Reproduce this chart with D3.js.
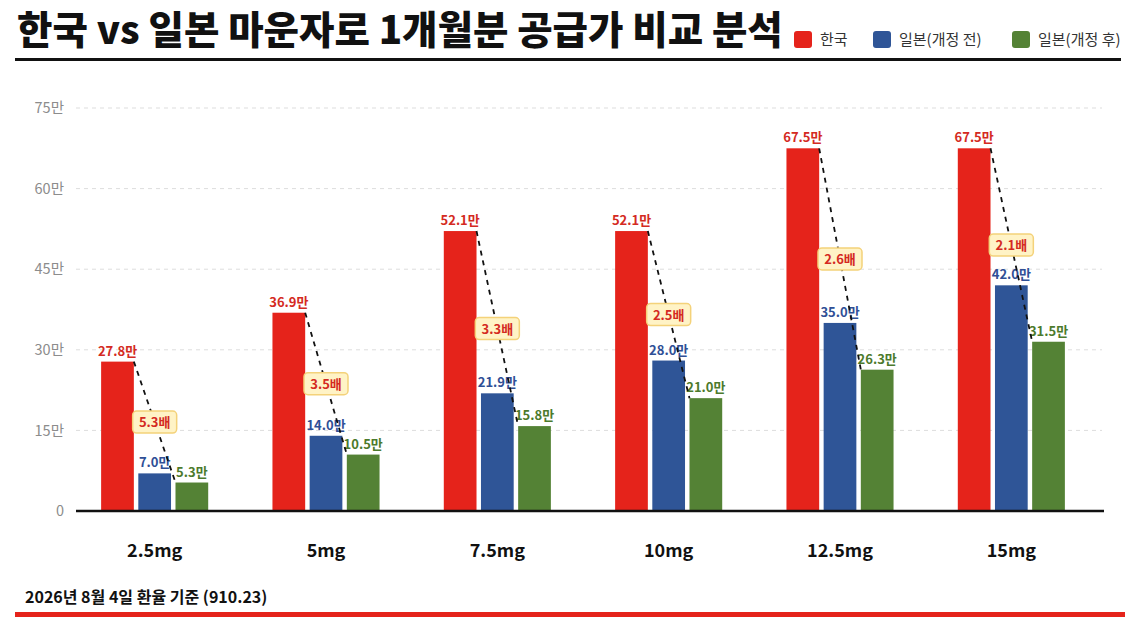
<!DOCTYPE html>
<html>
<head>
<meta charset="utf-8">
<title>한국 vs 일본 마운자로 1개월분 공급가 비교 분석</title>
<script src="https://d3js.org/d3.v7.min.js"></script>
<style>
  body { margin: 0; background: #fff; }
  text { font-family: "Noto Sans CJK KR", "Noto Sans", sans-serif; }
</style>
</head>
<body>
<div id="chart"></div>
<script>
// 데이터 (단위: 만원)
const doses = ["2.5mg", "5mg", "7.5mg", "10mg", "12.5mg", "15mg"];
const korea = [27.8, 36.9, 52.1, 52.1, 67.5, 67.5];
const japanBefore = [7.0, 14.0, 21.9, 28.0, 35.0, 42.0];
const japanAfter = [5.3, 10.5, 15.8, 21.0, 26.3, 31.5];
const ratioLabels = ["5.3배", "3.5배", "3.3배", "2.5배", "2.6배", "2.1배"];
const yTicks = [0, 15, 30, 45, 60, 75];
const seriesNames = ["한국", "일본(개정 전)", "일본(개정 후)"];

const colors = ["#e5231b", "#2f5597", "#548235"];
const labelColors = ["#d42a22", "#2f4f96", "#4c7a2c"];

const W = 1134, H = 620;
const svg = d3.select("#chart").append("svg")
    .attr("width", W).attr("height", H);

// 제목
svg.append("text")
    .attr("x", 17).attr("y", 44)
    .attr("font-size", 38.5).attr("font-weight", 900)
    .attr("fill", "#111")
    .text("한국 vs 일본 마운자로 1개월분 공급가 비교 분석");

svg.append("rect").attr("x", 15).attr("y", 58).attr("width", 1106).attr("height", 3).attr("fill", "#111");

// 범례
const legendX = [794, 873, 1012];
const legend = svg.append("g").selectAll("g").data(seriesNames).join("g")
    .attr("transform", (d, i) => `translate(${legendX[i]},31)`);
legend.append("rect").attr("width", 18).attr("height", 17).attr("rx", 3)
    .attr("fill", (d, i) => colors[i]);
legend.append("text").attr("x", 26).attr("y", 14)
    .attr("font-size", 15).attr("fill", "#333").text(d => d);

// 스케일
const x0 = d3.scaleBand().domain(doses).range([69, 1097]).paddingInner(0.375).paddingOuter(0.1875);
const x1 = d3.scaleBand().domain([0, 1, 2]).range([0, x0.bandwidth()]).paddingInner(0.12);
const y = d3.scaleLinear().domain([0, 75]).range([511, 108]);

// 격자선
svg.append("g").selectAll("line").data(yTicks.filter(t => t > 0)).join("line")
    .attr("x1", 76).attr("x2", 1102)
    .attr("y1", d => y(d)).attr("y2", d => y(d))
    .attr("stroke", "#ddd").attr("stroke-dasharray", "4,4");

// y축
const yAxis = svg.append("g").attr("transform", "translate(64,0)")
    .call(d3.axisLeft(y).tickValues(yTicks).tickSize(0).tickPadding(0)
        .tickFormat(d => d === 0 ? "0" : d + "만"));
yAxis.select(".domain").remove();
yAxis.selectAll("text").attr("font-size", 14.5).attr("fill", "#8c8c8c")
    .attr("font-family", "\"Noto Sans CJK KR\", sans-serif");

// 막대
const groups = doses.map((d, i) => ({ dose: d, vals: [korea[i], japanBefore[i], japanAfter[i]], ratio: ratioLabels[i] }));
const g = svg.append("g").selectAll("g").data(groups).join("g")
    .attr("transform", d => `translate(${x0(d.dose)},0)`);

g.selectAll("rect").data(d => d.vals).join("rect")
    .attr("x", (v, i) => x1(i))
    .attr("y", v => y(v))
    .attr("width", x1.bandwidth())
    .attr("height", v => y(0) - y(v))
    .attr("fill", (v, i) => colors[i]);

g.selectAll("text.val").data(d => d.vals).join("text")
    .attr("class", "val")
    .attr("x", (v, i) => x1(i) + x1.bandwidth() / 2)
    .attr("y", v => y(v) - 6)
    .attr("text-anchor", "middle")
    .attr("font-size", 13).attr("font-weight", 700)
    .attr("fill", (v, i) => labelColors[i])
    .text(v => v.toFixed(1) + "만");

// 점선 (한국 막대 오른쪽 위 → 개정 후 막대 왼쪽 위)
g.append("line")
    .attr("x1", x1(0) + x1.bandwidth()).attr("y1", d => y(d.vals[0]))
    .attr("x2", x1(2)).attr("y2", d => y(d.vals[2]))
    .attr("stroke", "#111").attr("stroke-width", 1.8).attr("stroke-dasharray", "5,5");

// 배수 라벨
const rb = g.append("g")
    .attr("transform", d => `translate(${(x1(0) + x1.bandwidth() + x1(2)) / 2},${(y(d.vals[0]) + y(d.vals[2])) / 2})`);
rb.append("rect").attr("x", -22).attr("y", -11).attr("width", 44).attr("height", 22).attr("rx", 4)
    .attr("fill", "#fff3c6").attr("stroke", "#f4d27a").attr("stroke-width", 1.5);
rb.append("text").attr("y", 5).attr("text-anchor", "middle")
    .attr("font-size", 13).attr("font-weight", 700).attr("fill", "#d42a22")
    .text(d => d.ratio);

// 기준선
svg.append("line").attr("x1", 76).attr("x2", 1104).attr("y1", y(0)).attr("y2", y(0))
    .attr("stroke", "#111").attr("stroke-width", 2.5);

// x축 라벨
svg.append("g").selectAll("text").data(doses).join("text")
    .attr("x", d => x0(d) + x0.bandwidth() / 2)
    .attr("y", 557)
    .attr("text-anchor", "middle")
    .attr("font-size", 18).attr("font-weight", 700).attr("fill", "#111")
    .text(d => d);

// 하단
svg.append("text").attr("x", 25).attr("y", 603)
    .attr("font-size", 16).attr("font-weight", 700).attr("fill", "#111")
    .text("2026년 8월 4일 환율 기준 (910.23)");
svg.append("rect").attr("x", 15).attr("y", 612).attr("width", 1110).attr("height", 5).attr("fill", "#e5231b");
</script>
</body>
</html>
